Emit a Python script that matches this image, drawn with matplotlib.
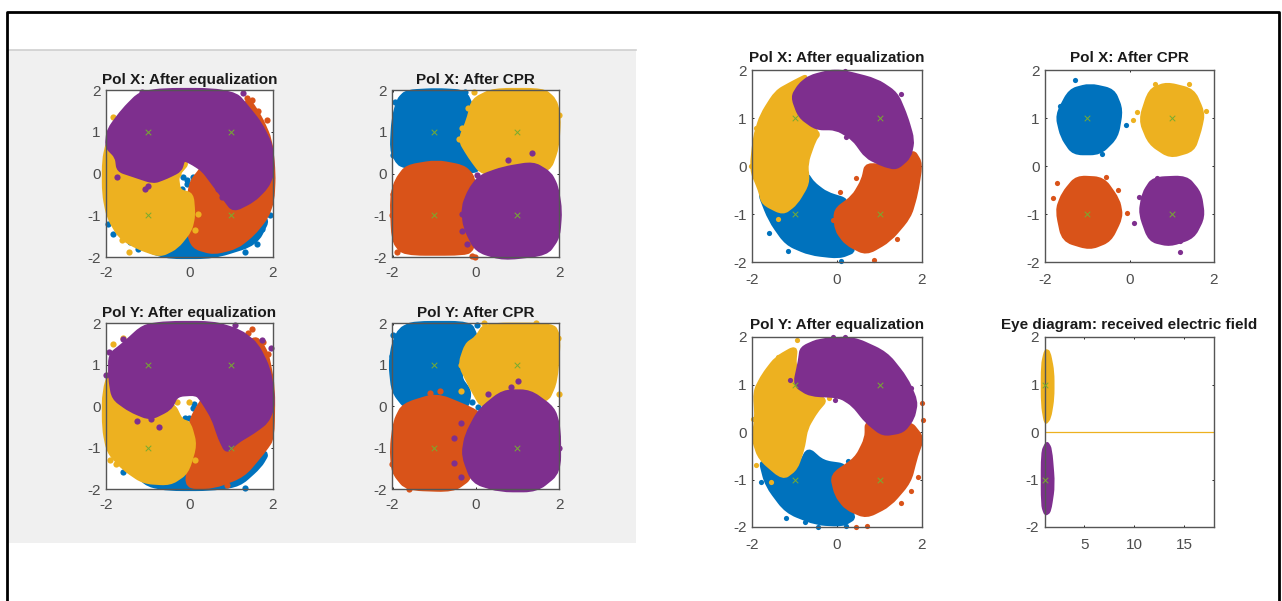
import matplotlib
matplotlib.use('Agg')
import matplotlib.pyplot as plt
from matplotlib.lines import Line2D
from matplotlib.patches import PathPatch, Rectangle
from matplotlib.path import Path

plt.rcParams['font.family'] = ['Liberation Sans', 'DejaVu Sans']
plt.rcParams['axes.unicode_minus'] = False

W, H = 1282, 601
BLUE, ORANGE, YELLOW, PURPLE = '#0072BD', '#D95319', '#EDB120', '#7E2F8E'
GREEN = '#77AC30'

CORNERS = [(-1, 1), (1, 1), (-1, -1), (1, -1)]
EYE_CORNERS = [(1, 1), (1, -1)]
TICKS_2 = [-2, 0, 2]
Y_TICKS = [-2, -1, 0, 1, 2]
EYE_TICKS = [5, 10, 15]

# Left picture, Pol X after equalization: cloud outlines and loose points
lx_eq_blue = [(-1.9, -1.1), (-1.42, -1.64), (-0.62, -2.0), (0.58, -2.0), (1.6, -1.68), (1.94, -1.0), (0.5, -0.8), (-1, -0.8)]
lx_eq_orange = [(0.02, -0.24), (0.34, 0.16), (1.38, 1.84), (1.7, 1.36), (1.95, 0.8), (2.03, 0), (2, -0.64), (1.86, -1.04),
                (1.54, -1.44), (1.14, -1.76), (0.58, -1.9), (0.1, -1.76), (-0.06, -1.28)]
lx_eq_yellow = [(-1.94, 0.8), (-2.05, 0.32), (-2.05, -0.48), (-1.94, -1.04), (-1.66, -1.52), (-1.26, -1.76), (-0.7, -1.96),
                (-0.3, -1.76), (0.02, -1.36), (0.1, -1.0), (0.06, -0.5), (-0.25, -0.42), (-0.3, -0.05), (0, 0.3), (-1, 0.6)]
lx_eq_purple = [(-1.94, 1.04), (-1.58, 1.52), (-1.18, 1.92), (-0.62, 2.0), (0.58, 2), (1.14, 1.88), (1.38, 1.6), (1.7, 1.2),
                (1.98, 0.64), (2, 0), (1.86, -0.32), (1.54, -0.64), (1.06, -0.88), (0.82, -0.56), (0.58, -0.24), (0.34, 0.08),
                (0.1, 0.24), (-0.14, 0.36), (-0.22, 0.08), (-0.54, -0.08), (-0.86, -0.2), (-1.34, -0.04), (-1.7, 0.08),
                (-1.74, 0.4), (-1.98, 0.64)]
lx_eq_blue_pts = [(-1.94, -1.2), (-1.84, -1.46), (-1.22, -1.8), (-1.42, -1.64), (1.62, -1.68), (1.34, -1.88), (1.74, -1.32),
                  (1.94, -1), (-0.06, -0.24), (-0.18, -0.36), (0.1, -0.08), (-0.14, -0.08), (-0.05, -0.15)]
lx_eq_orange_pts = [(1.5, 1.76), (1.86, 1.28), (1.38, 1.8), (1.66, 1.5), (0.5, -0.2)]
lx_eq_yellow_pts = [(-1.82, 1.36), (-1.74, 1.28), (-1.3, 1.76), (-1.62, -1.6), (-1.44, -1.88), (0.14, -1.36), (0.22, -0.96),
                    (0.3, 0.16), (-0.26, 0)]
lx_eq_purple_pts = [(-1.14, 1.96), (-0.98, -0.3), (-1.06, -0.36), (-1.74, -0.08), (1.3, 1.92), (0.7, -0.36), (0.78, -0.56), (0.5, 0)]

# Left picture, Pol X after CPR
lx_cpr_blue = [(-1.98, 1.28), (-1.86, 1.76), (-1.66, 1.96), (-0.94, 2), (-0.26, 1.96), (-0.06, 1.52), (0.02, 0.32), (0.06, 0.08),
               (-0.22, 0.04), (-0.94, 0.24), (-1.66, 0.16), (-1.86, 0.24), (-2.02, 0.56)]
lx_cpr_orange = [(-1.66, 0.16), (-0.94, 0.28), (-0.3, 0.16), (-0.06, -0.08), (0.02, -0.8), (-0.06, -1.76), (-0.22, -1.92),
                 (-1.74, -1.92), (-1.98, -1.6), (-2.02, -0.56), (-1.9, -0.16)]
lx_cpr_yellow = [(-0.06, 1.76), (0.42, 2), (1.62, 2), (1.9, 1.76), (2, 1.36), (1.96, 0.64), (1.76, 0.08), (1.04, 0), (0.16, 0),
                 (-0.14, 0.4), (-0.38, 0.8), (-0.18, 1.28)]
lx_cpr_purple = [(0.1, -0.08), (0.66, 0.12), (1.38, 0.24), (1.78, 0), (1.94, -0.32), (2.03, -0.88), (1.98, -1.52), (1.7, -1.92),
                 (0.66, -2.04), (0.02, -1.84), (-0.26, -1.28), (-0.3, -0.8), (-0.14, -0.4)]
lx_cpr_blue_pts = [(-1.94, 1.72), (-1.98, 0.44), (-0.26, 1.96), (-1.7, 0.3)]
lx_cpr_orange_pts = [(-1.98, -0.48), (-2.02, -1), (-1.9, -1.88), (-0.02, -2), (-0.1, -1.98)]
lx_cpr_yellow_pts = [(-0.18, 1.56), (-0.34, 1.08), (2, 1.4), (-0.04, 1.96), (-0.4, 0.82)]
lx_cpr_purple_pts = [(1.35, 0.5), (0.78, 0.32), (-0.34, -0.96), (-0.34, -1.38), (-0.22, -1.68), (0.02, -0.04)]

# Left picture, Pol Y after equalization
ly_eq_blue = [(-1.7, -1.3), (-1.3, -1.6), (-1, -1.9), (-0.5, -2.0), (0.5, -2.0), (1.2, -1.9), (1.7, -1.45), (1.9, -1.1), (1, -1), (0, -1), (-1, -1)]
ly_eq_orange = [(0.02, -0.38), (0.34, 0.19), (1.54, 1.72), (1.86, 1.31), (2.02, 0.43), (2, -0.78), (1.78, -1.1), (1.3, -1.67),
                (0.58, -1.95), (-0.06, -1.95), (0, -1.35)]
ly_eq_yellow = [(-2.05, 0.35), (-2.05, -0.54), (-1.94, -1.1), (-1.58, -1.5), (-1.1, -1.83), (-0.46, -1.87), (-0.06, -1.6),
                (0.14, -0.94), (0, -0.42), (-0.2, -0.35), (-0.38, 0.03), (-1.82, 1.07)]
ly_eq_purple = [(-1.9, 1.23), (-1.58, 1.48), (-1.1, 1.92), (-0.54, 2), (0.58, 2), (1.22, 1.8), (1.62, 1.48), (1.9, 0.91), (2, 0.35),
                (2, -0.05), (1.86, -0.38), (1.54, -0.62), (1.14, -0.86), (0.9, -1.1), (0.74, -0.78), (0.58, -0.3), (0.34, 0.1),
                (0.18, 0.3), (-0.3, 0.27), (-0.46, -0.06), (-0.94, -0.3), (-1.42, -0.1), (-1.82, 0.19), (-1.9, 0.67)]
ly_eq_blue_pts = [(-1.74, -1.2), (-1.58, -1.58), (-1.4, -1.5), (0.1, -0.05), (0.0, -0.28), (-0.1, -0.3), (0.12, 0.05), (1.35, -1.97), (1.78, -1.2)]
ly_eq_orange_pts = [(1.5, 1.85), (1.9, 1.25), (1.76, 1.55), (1.4, 1.75), (0.9, -1.9)]
ly_eq_yellow_pts = [(-1.82, 1.5), (-1.6, 1.65), (-1.9, -1.3), (-1.75, -1.4), (0.0, 0.1), (-0.3, 0.1), (0.15, -1.3)]
ly_eq_purple_pts = [(-1.6, 1.62), (-1.92, 1.3), (-2, 0.75), (-1.25, -0.35), (-0.93, -0.32), (-0.72, -0.5), (1.75, 1.6), (1.96, 1.4), (1.1, 1.95)]

# Left picture, Pol Y after CPR
ly_cpr_blue = [(-1.98, 1.48), (-1.82, 1.84), (-1.5, 2), (-0.14, 2), (0.02, 1.64), (-0.3, 1.07), (-0.38, 0.67), (-0.14, 0.35),
               (-0.22, -0.06), (-0.94, 0.19), (-1.66, -0.06), (-1.98, 0.35), (-2.05, 1)]
ly_cpr_orange = [(-1.74, 0.02), (-0.94, 0.27), (-0.14, -0.06), (0.06, -0.18), (-0.14, -0.78), (-0.26, -1.1), (-0.1, -1.71),
                 (-0.54, -2.03), (-1.66, -1.99), (-1.98, -1.59), (-2.02, -1.02), (-1.94, -0.38)]
ly_cpr_yellow = [(0.02, 1.64), (0.22, 1.96), (1.86, 1.96), (2, 1.64), (1.92, 0.6), (1.7, 0.1), (0.9, 0.27), (0.18, -0.06),
                 (-0.14, 0.51), (-0.38, 1), (-0.22, 1.48)]
ly_cpr_purple = [(0.1, -0.1), (0.66, 0.35), (1.3, 0.35), (1.86, -0.06), (2, -0.54), (2, -1.59), (1.46, -2.03), (0.58, -2.03),
                 (-0.06, -1.83), (-0.3, -1.19), (-0.22, -0.7)]
ly_cpr_blue_pts = [(-1.98, 1.7), (-2.02, 1.2), (0.02, 1.96), (0.05, -0.02), (-0.1, 0.1)]
ly_cpr_orange_pts = [(-1.1, 0.32), (-0.85, 0.35), (-1.85, -0.3), (-2.02, -1.4), (-1.6, -2.0)]
ly_cpr_yellow_pts = [(-0.36, 0.35), (-0.35, 1.0), (2, 0.28), (1.98, 1.65), (1.45, 2.0), (0.2, 2.0)]
ly_cpr_purple_pts = [(1.02, 0.6), (0.85, 0.45), (0.3, 0.3), (-0.36, -0.42), (-0.52, -0.78), (-0.52, -1.38), (-0.36, -1.72), (2, -1)]

# Right picture, Pol X after equalization
rx_eq_blue = [(-1.86, -0.5), (-1.58, -1.13), (-1.19, -1.62), (-0.64, -1.83), (0.06, -1.9), (0.45, -1.76), (-0.02, -1.33),
              (-0.05, -0.92), (0.26, -0.71), (-0.25, -0.57), (-0.56, -0.36), (-0.72, -0.15), (-0.88, -0.64), (-1.27, -0.99)]
rx_eq_orange = [(1.79, 0.33), (1.98, 0.05), (1.87, -0.57), (1.71, -1.06), (1.24, -1.55), (0.69, -1.83), (0.22, -1.62), (-0.02, -1.33),
                (-0.05, -0.92), (0.38, -0.64), (0.61, -0.29), (0.69, 0.05), (1.4, -0.05)]
rx_eq_yellow = [(-0.68, 1.9), (-1, 1.76), (-1.43, 1.55), (-1.78, 1.06), (-1.94, 0.61), (-2.02, -0.08), (-1.82, -0.5), (-1.74, -0.78),
                (-1.27, -0.99), (-0.96, -0.78), (-0.68, -0.36), (-0.72, 0.06), (-0.53, 0.54), (-0.41, 0.68), (-0.88, 1.03), (-1.04, 1.51)]
rx_eq_purple = [(-0.64, 1.86), (-0.17, 1.97), (0.14, 1.97), (0.93, 1.79), (1.4, 1.51), (1.63, 1.03), (1.79, 0.54), (1.71, 0.19),
                (1.4, -0.05), (1.08, 0.02), (0.69, 0.19), (0.38, 0.57), (-0.02, 0.78), (-0.49, 0.78), (-0.88, 1.03), (-1.05, 1.44), (-0.88, 1.69)]
rx_eq_blue_pts = [(-0.72, -0.15), (-0.75, -0.33), (0.1, -1.98), (-1.6, -1.4), (-1.15, -1.78)]
rx_eq_orange_pts = [(0.45, -0.25), (0.08, -0.55), (-0.1, -1.12), (1.4, -1.53), (0.88, -1.95)]
rx_eq_yellow_pts = [(-1.4, -1.1), (-1.9, 0.8), (-2.03, 0.0)]
rx_eq_purple_pts = [(0.18, 1.98), (1.5, 1.5), (0.2, 0.6)]

# Right picture, Pol X after CPR
rx_cpr_blue = [(-1.41, 1.58), (-0.94, 1.69), (-0.38, 1.58), (-0.19, 1.17), (-0.3, 0.61), (-0.7, 0.26), (-1.33, 0.26), (-1.6, 0.61), (-1.72, 1.06)]
rx_cpr_orange = [(-1.25, -0.23), (-0.62, -0.26), (-0.26, -0.71), (-0.19, -1.06), (-0.46, -1.55), (-0.94, -1.72), (-1.57, -1.55), (-1.72, -0.92), (-1.57, -0.57)]
rx_cpr_yellow = [(0.48, 1.58), (0.88, 1.72), (1.51, 1.58), (1.75, 1.1), (1.67, 0.75), (1.51, 0.33), (0.96, 0.19), (0.48, 0.47), (0.25, 0.96)]
rx_cpr_purple = [(0.56, -0.26), (1.35, -0.23), (1.67, -0.57), (1.75, -1.06), (1.51, -1.48), (0.96, -1.65), (0.48, -1.55), (0.25, -0.99), (0.33, -0.57)]
rx_cpr_blue_pts = [(-1.3, 1.8), (-0.08, 0.86), (-0.65, 0.26), (-1.65, 1.25)]
rx_cpr_orange_pts = [(-1.72, -0.35), (-1.8, -0.66), (-0.55, -0.22), (-0.28, -0.5), (-0.05, -0.98)]
rx_cpr_yellow_pts = [(0.08, 0.95), (0.18, 1.13), (1.8, 1.15), (0.6, 1.7), (1.4, 1.7)]
rx_cpr_purple_pts = [(0.22, -0.65), (0.1, -1.18), (1.35, -1.45), (1.2, -1.57), (1.2, -1.8), (0.65, -0.25)]

# Right picture, Pol Y after equalization
ry_eq_blue = [(-1.82, -0.56), (-1.66, -1.12), (-1.19, -1.68), (-0.49, -1.93), (0.14, -1.96), (0.45, -1.79), (-0.02, -1.33), (-0.09, -0.91),
              (0.22, -0.7), (-0.33, -0.63), (-0.68, -0.35), (-0.88, -0.7), (-1.27, -0.98)]
ry_eq_orange = [(1.71, 0.22), (2.02, -0.13), (1.87, -0.49), (1.71, -1.05), (1.24, -1.54), (0.69, -1.79), (0.22, -1.61), (-0.02, -1.33),
                (-0.13, -0.91), (0.45, -0.56), (0.69, -0.13), (0.69, 0.22), (1.08, -0.06)]
ry_eq_yellow = [(-0.96, 1.8), (-1.43, 1.56), (-1.74, 1.2), (-1.94, 0.85), (-1.9, 0.29), (-1.98, -0.13), (-1.82, -0.56), (-1.27, -0.98),
                (-0.96, -0.77), (-0.8, -0.35), (-0.72, 0.08), (-0.49, 0.43), (-0.25, 0.68), (-0.64, 0.82), (-0.88, 0.99), (-1, 1.42)]
ry_eq_purple = [(-0.84, 1.77), (-0.41, 1.94), (0.38, 1.98), (1.16, 1.66), (1.63, 1.13), (1.87, 0.64), (1.79, 0.29), (1.55, 0.01),
                (1.08, -0.06), (0.69, 0.22), (0.38, 0.57), (0.06, 0.75), (-0.64, 0.78), (-1, 0.99), (-0.88, 1.49)]
ry_eq_blue_pts = [(-1.8, -1.05), (-1.2, -1.82), (-0.75, -1.9), (-0.45, -2.0), (0.2, -1.98), (0.25, -0.6)]
ry_eq_orange_pts = [(2.0, 0.62), (2.02, 0.25), (1.9, -0.95), (1.75, -1.25), (1.5, -1.5), (0.45, -2.0), (0.7, -1.98)]
ry_eq_yellow_pts = [(-1.38, 1.58), (-0.95, 1.93), (-1.55, -1.05), (-1.9, -0.7), (-0.18, 0.72), (-1.98, 0.28)]
ry_eq_purple_pts = [(-1.1, 1.1), (-0.85, 1.6), (-0.1, 2.0), (0.18, 2.0), (1.75, 0.93), (-0.05, 0.68)]

# Right picture, eye diagram
eye_yellow = [(1.07, 1.73), (1.5, 1.7), (1.9, 1.27), (1.9, 0.71), (1.57, 0.29), (1.07, 0.16), (0.73, 0.57), (0.73, 1.42)]
eye_purple = [(1.23, -0.2), (1.67, -0.35), (1.97, -1.12), (1.57, -1.68), (1.07, -1.75), (0.73, -1.54), (0.73, -0.42)]
eye_line_x = [1, 18]
eye_line_y = [0, 0]


def add_box(fig, left, top, right, bottom):
    return fig.add_axes([left / W, 1 - bottom / H, (right - left) / W, (bottom - top) / H])


def rounded_path(outline, cut=0.35):
    # straight edges, with each outline corner cut by a short quadratic curve
    def towards(a, b):
        return (a[0] + cut * (b[0] - a[0]), a[1] + cut * (b[1] - a[1]))
    verts, codes = [], []
    for i, point in enumerate(outline):
        before, after = outline[i - 1], outline[(i + 1) % len(outline)]
        verts += [towards(point, before), point, towards(point, after)]
        codes += [Path.MOVETO if i == 0 else Path.LINETO, Path.CURVE3, Path.CURVE3]
    verts.append(verts[0])
    codes.append(Path.CLOSEPOLY)
    return Path(verts, codes)


def draw_cloud(ax, outline, loose, color, edge, size, layer):
    ax.add_patch(PathPatch(rounded_path(outline), facecolor=color, edgecolor=color, linewidth=edge,
                           joinstyle='round', clip_on=False, zorder=layer))
    if loose:
        xs, ys = zip(*loose)
        ax.scatter(xs, ys, s=size, color=color, linewidths=0, clip_on=False, zorder=layer)


def draw_panel(ax, title, clouds, edge, size, title_pad, x_pad, xlim=(-2, 2), xticks=TICKS_2, marks=CORNERS):
    for i, (outline, loose, color) in enumerate(clouds):
        draw_cloud(ax, outline, loose, color, edge, size, 2 + i * 0.1)
    xs, ys = zip(*marks)
    ax.scatter(xs, ys, s=16, marker='x', color=GREEN, linewidths=0.7, clip_on=False, zorder=5)
    ax.set_xlim(*xlim)
    ax.set_ylim(-2, 2)
    ax.set_xticks(xticks)
    ax.set_yticks(Y_TICKS)
    ax.tick_params(direction='in', length=1.5, width=0.6, top=True, right=True, labelsize=11, labelcolor='#4d4d4d')
    ax.tick_params(axis='x', pad=x_pad)
    ax.tick_params(axis='y', pad=4)
    for spine in ax.spines.values():
        spine.set_color('#555555')
        spine.set_linewidth(1.0)
        spine.set_zorder(4)
    ax.set_title(title, fontsize=11, fontweight='bold', color='#1a1a1a', pad=title_pad)


fig = plt.figure(figsize=(W / 100, H / 100), dpi=100, facecolor='white')

# Screenshot backdrop and the frame round the whole picture
fig.patches.append(Rectangle((8 / W, 1 - 543 / H), 628 / W, 493 / H, transform=fig.transFigure,
                             facecolor='#f0f0f0', edgecolor='none', zorder=-2))
fig.lines.append(Line2D([8 / W, 636 / W], [1 - 50 / H, 1 - 50 / H], transform=fig.transFigure, color='#cfcfcf',
                        linewidth=1.2, zorder=-1))
fig.lines.append(Line2D([7 / W, 7 / W, 1279 / W, 1279 / W], [0, 1 - 12 / H, 1 - 12 / H, 0], transform=fig.transFigure,
                        color='black', linewidth=2, zorder=-1))

left_x_eq = [(lx_eq_blue, lx_eq_blue_pts, BLUE), (lx_eq_orange, lx_eq_orange_pts, ORANGE),
             (lx_eq_yellow, lx_eq_yellow_pts, YELLOW), (lx_eq_purple, lx_eq_purple_pts, PURPLE)]
left_x_cpr = [(lx_cpr_blue, lx_cpr_blue_pts, BLUE), (lx_cpr_orange, lx_cpr_orange_pts, ORANGE),
              (lx_cpr_yellow, lx_cpr_yellow_pts, YELLOW), (lx_cpr_purple, lx_cpr_purple_pts, PURPLE)]
left_y_eq = [(ly_eq_blue, ly_eq_blue_pts, BLUE), (ly_eq_orange, ly_eq_orange_pts, ORANGE),
             (ly_eq_yellow, ly_eq_yellow_pts, YELLOW), (ly_eq_purple, ly_eq_purple_pts, PURPLE)]
left_y_cpr = [(ly_cpr_blue, ly_cpr_blue_pts, BLUE), (ly_cpr_orange, ly_cpr_orange_pts, ORANGE),
              (ly_cpr_yellow, ly_cpr_yellow_pts, YELLOW), (ly_cpr_purple, ly_cpr_purple_pts, PURPLE)]
right_x_eq = [(rx_eq_blue, rx_eq_blue_pts, BLUE), (rx_eq_orange, rx_eq_orange_pts, ORANGE),
              (rx_eq_yellow, rx_eq_yellow_pts, YELLOW), (rx_eq_purple, rx_eq_purple_pts, PURPLE)]
right_x_cpr = [(rx_cpr_blue, rx_cpr_blue_pts, BLUE), (rx_cpr_orange, rx_cpr_orange_pts, ORANGE),
               (rx_cpr_yellow, rx_cpr_yellow_pts, YELLOW), (rx_cpr_purple, rx_cpr_purple_pts, PURPLE)]
right_y_eq = [(ry_eq_blue, ry_eq_blue_pts, BLUE), (ry_eq_orange, ry_eq_orange_pts, ORANGE),
              (ry_eq_yellow, ry_eq_yellow_pts, YELLOW), (ry_eq_purple, ry_eq_purple_pts, PURPLE)]
eye_clouds = [(eye_yellow, [], YELLOW), (eye_purple, [], PURPLE)]

draw_panel(add_box(fig, 106, 90, 272.5, 257), 'Pol X: After equalization', left_x_eq, 3.0, 20, 4, 6.5)
draw_panel(add_box(fig, 392.5, 90, 559, 257), 'Pol X: After CPR', left_x_cpr, 3.0, 20, 4, 6.5)
draw_panel(add_box(fig, 106, 323, 272.5, 489), 'Pol Y: After equalization', left_y_eq, 3.0, 20, 4, 6.5)
draw_panel(add_box(fig, 392.5, 323, 559, 489), 'Pol Y: After CPR', left_y_cpr, 3.0, 20, 4, 6.5)

draw_panel(add_box(fig, 752, 70, 922, 262), 'Pol X: After equalization', right_x_eq, 2.5, 14, 5.5, 8)
draw_panel(add_box(fig, 1045, 70, 1214, 262), 'Pol X: After CPR', right_x_cpr, 2.5, 14, 5.5, 8)
draw_panel(add_box(fig, 752, 337, 922, 527), 'Pol Y: After equalization', right_y_eq, 2.5, 14, 5.5, 8)

eye_ax = add_box(fig, 1044.5, 337, 1214, 527)
eye_ax.plot(eye_line_x, eye_line_y, color=YELLOW, linewidth=0.9, zorder=2)
draw_panel(eye_ax, 'Eye diagram: received electric field', eye_clouds, 1.5, 14, 5.5, 8,
           xlim=(1, 18), xticks=EYE_TICKS, marks=EYE_CORNERS)

fig.savefig('out.png', dpi=100)
